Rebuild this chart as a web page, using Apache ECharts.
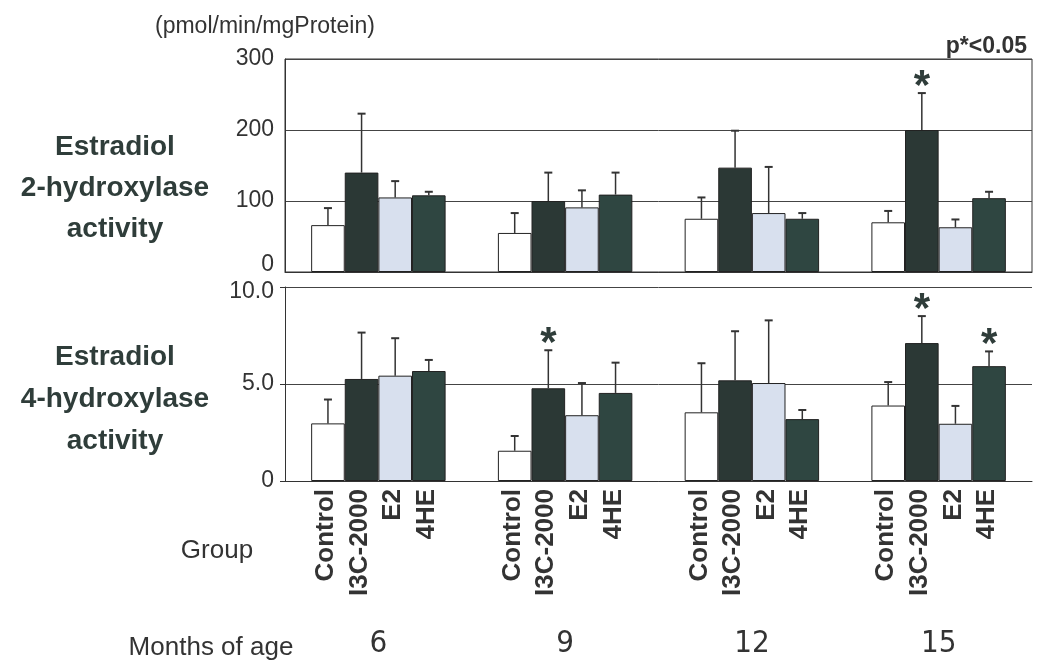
<!DOCTYPE html>
<html>
<head>
<meta charset="utf-8">
<script src="https://cdn.jsdelivr.net/npm/echarts@6/dist/echarts.min.js"></script>
<style>html,body{margin:0;padding:0;background:#fff}#c{width:1038px;height:663px}</style>
</head>
<body>
<div id="c"></div>
<script>
// ---- data ----
var months = ['6', '9', '12', '15'];
var groups = ['Control', 'I3C-2000', 'E2', '4HE'];
var yTicks2h = [0, 100, 200, 300];
var yTicks4h = [0, 5.0, 10.0];

// Estradiol 2-hydroxylase activity (mean, SD)
var h2Control = [66, 55, 75, 70];
var h2ControlSD = [24, 28, 30, 16];
var h2I3C = [140, 100, 147, 200];
var h2I3CSD = [83, 40, 52, 52];
var h2E2 = [105, 91, 83, 63];
var h2E2SD = [23, 24, 65, 11];
var h2HE = [108, 109, 75, 104];
var h2HESD = [5, 31, 8, 9];

// Estradiol 4-hydroxylase activity (mean, SD)
var h4Control = [2.97, 1.56, 3.54, 3.89];
var h4ControlSD = [1.23, 0.76, 2.53, 1.21];
var h4I3C = [5.26, 4.78, 5.19, 7.11];
var h4I3CSD = [2.39, 1.96, 2.53, 1.39];
var h4E2 = [5.43, 3.39, 5.05, 2.95];
var h4E2SD = [1.93, 1.66, 3.23, 0.92];
var h4HE = [5.67, 4.54, 3.19, 5.92];
var h4HESD = [0.57, 1.56, 0.47, 0.76];

// significance (p<0.05) flags per group
var h2Sig = [[0,0,0,0], [0,0,0,1], [0,0,0,0], [0,0,0,0]];
var h4Sig = [[0,0,0,0], [0,1,0,1], [0,0,0,0], [0,0,0,1]];

// ---- styling ----
var colors = ['#ffffff', '#2b3835', '#d8e0ee', '#2f4641'];
var GAP = 0.28;
var textDark = '#2f3d3a';
var fam = '"Liberation Sans", Arial, sans-serif';

var h2Means = [h2Control, h2I3C, h2E2, h2HE];
var h2SDs = [h2ControlSD, h2I3CSD, h2E2SD, h2HESD];
var h4Means = [h4Control, h4I3C, h4E2, h4HE];
var h4SDs = [h4ControlSD, h4I3CSD, h4E2SD, h4HESD];

function barSeries(means, gi) {
  return means.map(function (arr, i) {
    return {
      type: 'bar', name: groups[i], xAxisIndex: gi, yAxisIndex: gi,
      data: arr, barGap: 0, barCategoryGap: (GAP * 100) + '%',
      itemStyle: { color: colors[i], borderColor: '#222', borderWidth: 1 },
      z: 2
    };
  });
}

function errData(means, sds, sig) {
  var d = [];
  for (var s = 0; s < means.length; s++)
    for (var c = 0; c < months.length; c++)
      d.push([c, means[s][c], sds[s][c], s, sig[s][c]]);
  return d;
}

function errRender(params, api) {
  var c = api.value(0), m = api.value(1), sd = api.value(2), s = api.value(3), sig = api.value(4);
  var band = api.size([1, 0])[0];
  var bw = band * (1 - GAP) / 4;
  var center = api.coord([c, 0]);
  var x = center[0] + (s - 1.5) * bw;
  var pTop = api.coord([c, m + sd]);
  var pMid = api.coord([c, m]);
  var children = [
    { type: 'line', shape: { x1: x, y1: pMid[1], x2: x, y2: pTop[1] }, style: { stroke: '#333', lineWidth: 1.5 } },
    { type: 'line', shape: { x1: x - 4, y1: pTop[1], x2: x + 4, y2: pTop[1] }, style: { stroke: '#333', lineWidth: 2 } }
  ];
  if (sig) {
    children.push({ type: 'text', x: x, y: pTop[1] - 6,
      style: { text: '*', fontSize: 42, fontWeight: 'bold', fontFamily: fam,
        fill: textDark, align: 'center', verticalAlign: 'middle' } });
  }
  return { type: 'group', children: children };
}

function labelData() {
  var d = [];
  for (var c = 0; c < months.length; c++)
    for (var s = 0; s < groups.length; s++) d.push([c, 0, s]);
  return d;
}
function labelRender(params, api) {
  var c = api.value(0), s = api.value(2);
  var band = api.size([1, 0])[0];
  var bw = band * (1 - GAP) / 4;
  var p = api.coord([c, 0]);
  var x = p[0] + (s - 1.5) * bw - 2;
  return { type: 'text', x: x, y: p[1] + 8, rotation: Math.PI / 2,
    style: { text: groups[s], fontSize: 26, fontWeight: 'bold', fontFamily: fam,
      fill: '#333', align: 'right', verticalAlign: 'middle' } };
}

var option = {
  animation: false,
  backgroundColor: '#fff',
  title: [
    { text: '(pmol/min/mgProtein)', left: 150, top: 10, textStyle: { fontSize: 23, fontWeight: 'normal', color: '#333', fontFamily: fam } },
    { text: 'p*<0.05', right: 6, top: 30, textStyle: { fontSize: 23, fontWeight: 'bold', color: '#333', fontFamily: fam } },
    { text: 'Estradiol\n2-hydroxylase\nactivity', left: 110, top: 122, textAlign: 'center',
      textStyle: { fontSize: 28, fontWeight: 'bold', color: textDark, lineHeight: 41, fontFamily: fam } },
    { text: 'Estradiol\n4-hydroxylase\nactivity', left: 110, top: 331, textAlign: 'center',
      textStyle: { fontSize: 28, fontWeight: 'bold', color: textDark, lineHeight: 42, fontFamily: fam } },
    { text: 'Group', left: 212, top: 533, textAlign: 'center', textStyle: { fontSize: 26, fontWeight: 'normal', color: '#333', fontFamily: fam } },
    { text: 'Months of age', left: 206, top: 630, textAlign: 'center', textStyle: { fontSize: 26, fontWeight: 'normal', color: '#333', fontFamily: fam } }
  ],
  grid: [
    { left: 285, top: 59, width: 747, height: 213, show: true, borderColor: '#333', borderWidth: 1, backgroundColor: 'transparent' },
    { left: 285, top: 287, width: 747, height: 194 }
  ],
  xAxis: [
    { type: 'category', gridIndex: 0, data: months, axisLine: { lineStyle: { color: '#333' } }, axisTick: { show: false }, axisLabel: { show: false } },
    { type: 'category', gridIndex: 1, data: months, axisLine: { lineStyle: { color: '#333' } }, axisTick: { show: false },
      axisLabel: { margin: 147, fontSize: 31, color: '#333', fontFamily: '"Liberation Sans Narrow", "DejaVu Sans Condensed", Arial, sans-serif' } }
  ],
  yAxis: [
    { type: 'value', gridIndex: 0, min: yTicks2h[0], max: yTicks2h[yTicks2h.length - 1], interval: 100,
      axisLine: { show: true, lineStyle: { color: '#333' } }, axisTick: { show: false },
      splitLine: { lineStyle: { color: '#444', width: 1 } },
      axisLabel: { margin: 11, fontSize: 23, color: '#333', fontFamily: fam,
        formatter: function (v) { return v === 0 ? '{up|0}' : String(v); },
        rich: { up: { fontSize: 23, color: '#333', fontFamily: fam, padding: [0, 0, 14, 0] } } } },
    { type: 'value', gridIndex: 1, min: yTicks4h[0], max: yTicks4h[yTicks4h.length - 1], interval: 5,
      axisLine: { show: true, lineStyle: { color: '#333' } }, axisTick: { show: true, length: 5, lineStyle: { color: '#333' } },
      splitLine: { lineStyle: { color: '#444', width: 1 } },
      axisLabel: { margin: 11, fontSize: 23, color: '#333', fontFamily: fam,
        formatter: function (v) { return v === 0 ? '0' : (v === 10 ? '{dn|10.0}' : v.toFixed(1)); },
        rich: { dn: { fontSize: 23, color: '#333', fontFamily: fam, padding: [10, 0, 0, 0] } } } }
  ],
  series: [].concat(
    barSeries(h2Means, 0),
    barSeries(h4Means, 1),
    [
      { type: 'custom', xAxisIndex: 0, yAxisIndex: 0, data: errData(h2Means, h2SDs, h2Sig), renderItem: errRender, z: 5, clip: false },
      { type: 'custom', xAxisIndex: 1, yAxisIndex: 1, data: errData(h4Means, h4SDs, h4Sig), renderItem: errRender, z: 5, clip: false },
      { type: 'custom', xAxisIndex: 1, yAxisIndex: 1, data: labelData(), renderItem: labelRender, z: 5, clip: false }
    ]
  )
};
var chart = echarts.init(document.getElementById('c'), null, { renderer: 'canvas' });
chart.setOption(option);
</script>
</body>
</html>
